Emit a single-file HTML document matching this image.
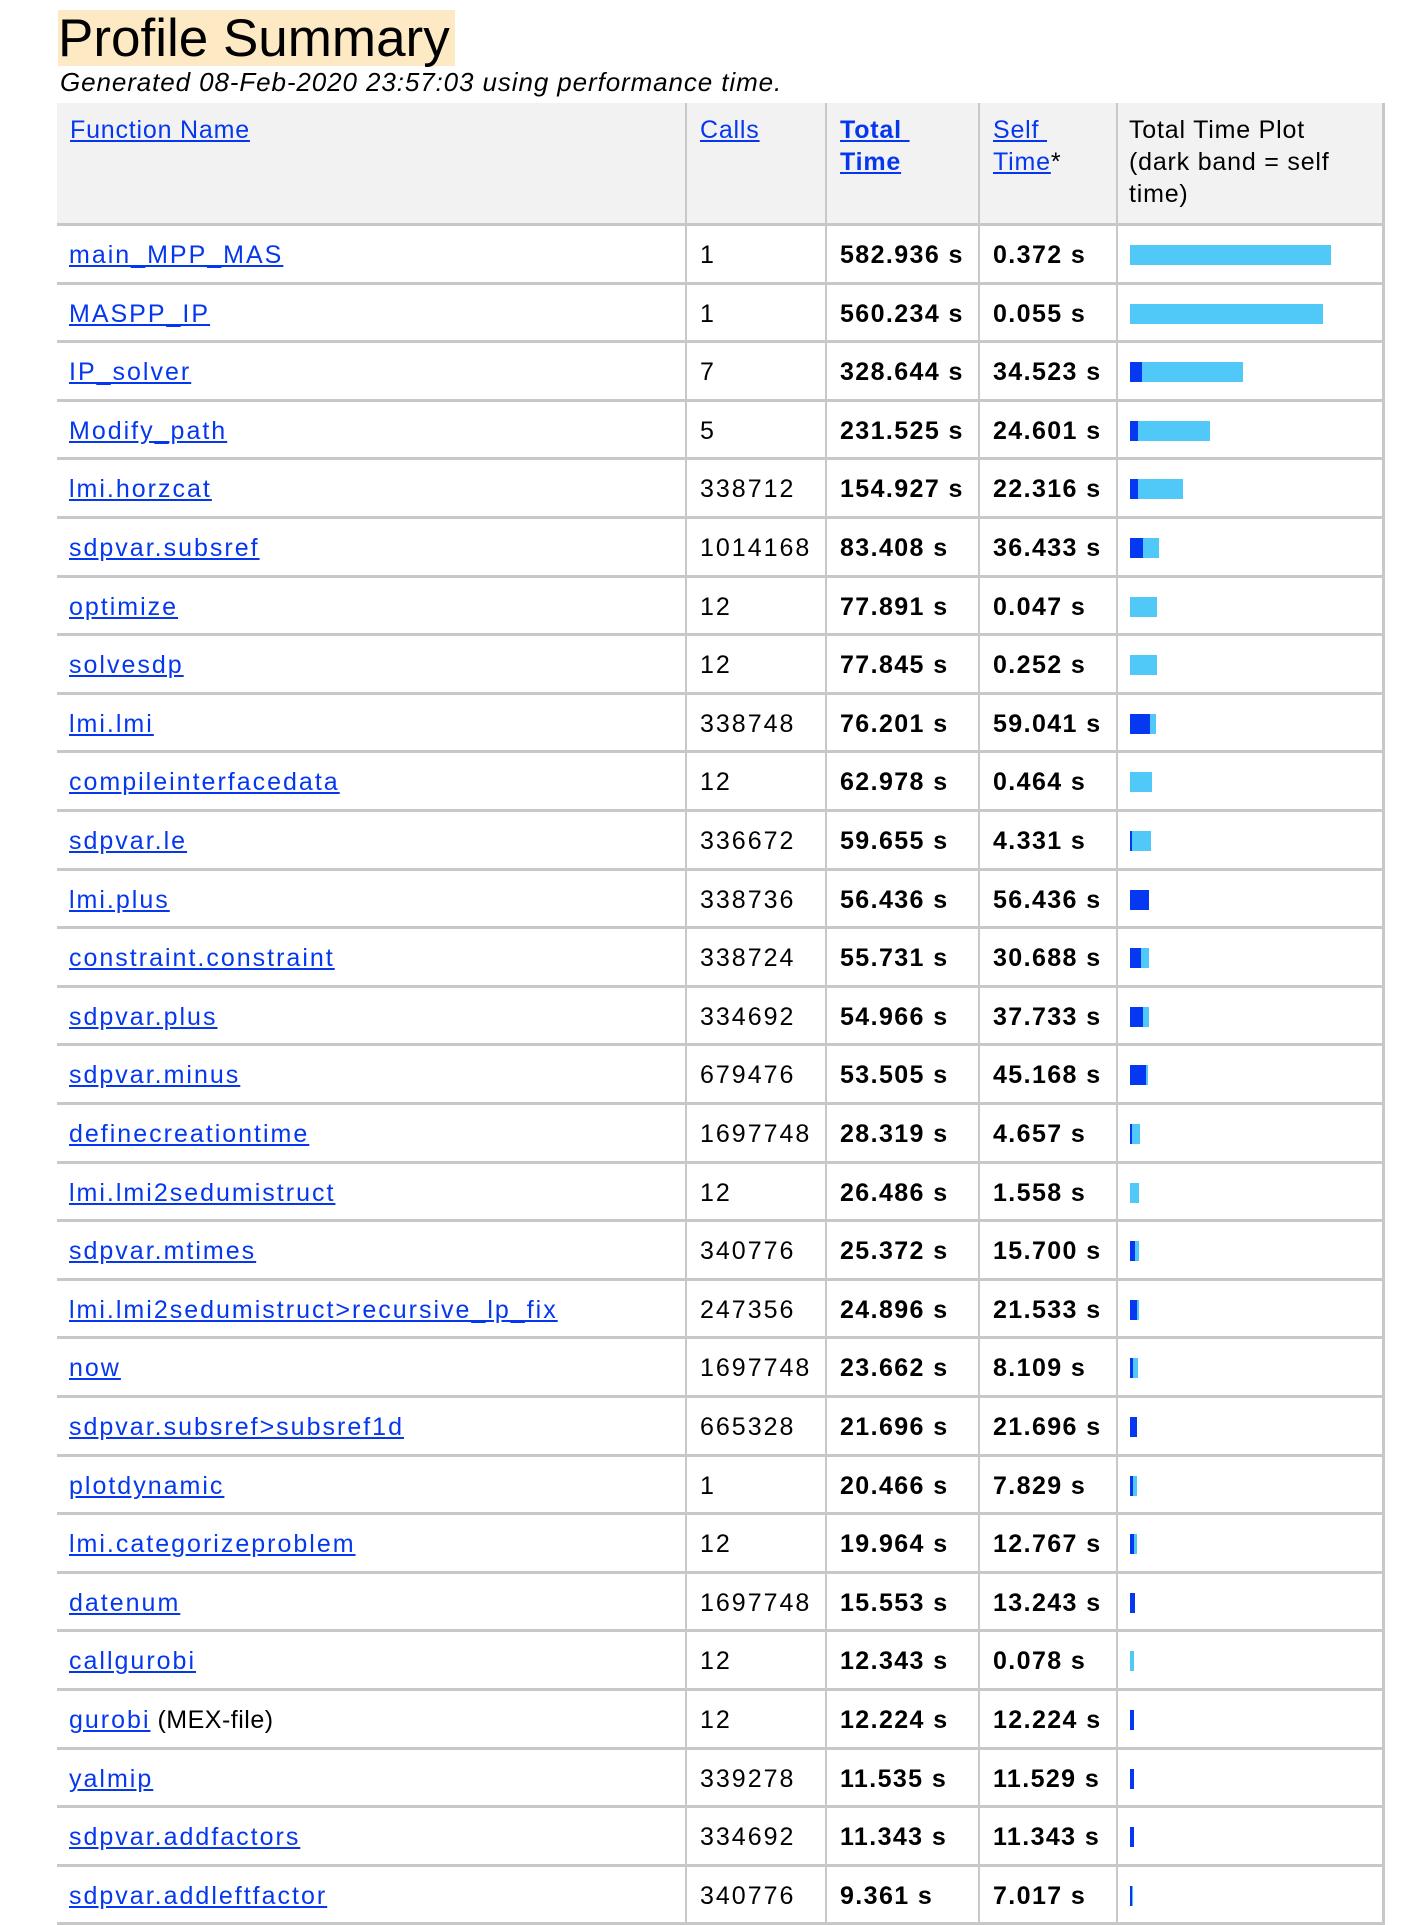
<!DOCTYPE html>
<html><head><meta charset="utf-8"><style>
html,body{margin:0;padding:0;background:#fff;}
body{width:1406px;height:1924px;position:relative;overflow:hidden;font-family:"Liberation Sans",sans-serif;}
.abs{position:absolute;}
#title{left:58px;top:10px;width:397px;height:56px;background:#fde9c4;font-size:53px;line-height:58px;color:#000;white-space:nowrap;}
#sub{left:60px;top:67px;font-size:26px;letter-spacing:0.9px;font-style:italic;white-space:nowrap;color:#000;}
.hdr{background:#f2f2f2;}
.hl{background:#c8c8c8;height:3px;}
.vl{background:#c8c8c8;width:2px;}
.t{position:absolute;font-size:25px;white-space:nowrap;color:#000;line-height:30px;}
.nm{letter-spacing:2px;}
.cl{letter-spacing:2px;}
a{color:#0538ee;text-decoration:underline;}
.b{font-weight:bold;letter-spacing:1.4px;}
.htxt{position:absolute;font-size:25px;letter-spacing:0.8px;line-height:32px;color:#000;}
</style></head><body>
<div id="title" class="abs">Profile Summary</div>
<div id="sub" class="abs">Generated 08-Feb-2020 23:57:03 using performance time.</div>
<div id="tbl"></div>
<script>
const names=["main_MPP_MAS","MASPP_IP","IP_solver","Modify_path","lmi.horzcat","sdpvar.subsref","optimize","solvesdp","lmi.lmi","compileinterfacedata","sdpvar.le","lmi.plus","constraint.constraint","sdpvar.plus","sdpvar.minus","definecreationtime","lmi.lmi2sedumistruct","sdpvar.mtimes","lmi.lmi2sedumistruct>recursive_lp_fix","now","sdpvar.subsref>subsref1d","plotdynamic","lmi.categorizeproblem","datenum","callgurobi","gurobi","yalmip","sdpvar.addfactors","sdpvar.addleftfactor"];
const calls=[1,1,7,5,338712,1014168,12,12,338748,12,336672,338736,338724,334692,679476,1697748,12,340776,247356,1697748,665328,1,12,1697748,12,12,339278,334692,340776];
const totalTime=[582.936,560.234,328.644,231.525,154.927,83.408,77.891,77.845,76.201,62.978,59.655,56.436,55.731,54.966,53.505,28.319,26.486,25.372,24.896,23.662,21.696,20.466,19.964,15.553,12.343,12.224,11.535,11.343,9.361];
const selfTime=[0.372,0.055,34.523,24.601,22.316,36.433,0.047,0.252,59.041,0.464,4.331,56.436,30.688,37.733,45.168,4.657,1.558,15.700,21.533,8.109,21.696,7.829,12.767,13.243,0.078,12.224,11.529,11.343,7.017];

const tbl=document.getElementById('tbl');
const L=57,R=1385,TOP=103,HB=223,PITCH=58.6;
const cols=[685,825,978,1116];
const barX0=1130, barScale=201/582.936;
const barW=v=>v*barScale;
function mk(cls,style,html){const d=document.createElement('div');d.className=cls;d.style.cssText=style;if(html!==undefined)d.innerHTML=html;tbl.appendChild(d);return d;}

let e=mk('abs hdr',`left:${L}px;top:${TOP}px;width:${R-L}px;height:${HB-TOP}px;`);



const heads=[[70,'<a href="#">Function Name</a>','header-function-name',true],[700,'<a href="#">Calls</a>','header-calls',true],[840,'<a href="#" style="font-weight:bold">Total&nbsp;<br>Time</a>','header-total-time',true],[993,'<a href="#">Self&nbsp;<br>Time</a>*','header-self-time',true],[1129,'Total Time Plot<br>(dark band = self<br>time)','header-plot',false]];
heads.forEach(h=>{
  const d=mk('htxt',`left:${h[0]}px;top:114px;`,h[1]);
  
  
});

for(let i=0;i<=names.length;i++){
  const y=Math.round(HB+i*PITCH);
  const ln=mk('abs hl',`left:${L}px;top:${y}px;width:${R-L}px;`);
  
  
}
cols.concat([R-3]).forEach(c=>{
  const v=mk('abs vl',`left:${c}px;top:${TOP}px;height:${1924-TOP}px;${c===R-3?'width:3px;':''}`);
  
  
});

names.forEach((n,i)=>{
  const y=HB+i*PITCH;
  const ty=Math.round(y+17);
  let d=mk('t',`left:69px;top:${ty}px;`,`<a href="#" class="nm">${n}</a>`+(n==='gurobi'?' <span style="letter-spacing:0.5px">(MEX-file)</span>':''));
  
  
  d=mk('t cl',`left:700px;top:${ty}px;`,String(calls[i]));
  
  
  d=mk('t b',`left:840px;top:${ty}px;`,totalTime[i].toFixed(3)+' s');
  
  
  d=mk('t b',`left:993px;top:${ty}px;`,selfTime[i].toFixed(3)+' s');
  
  
  const by=Math.round(y+22);
  const tw=Math.max(2,barW(totalTime[i]));
  const b=mk('abs',`left:${barX0}px;top:${by}px;width:${tw}px;height:20px;background:#50c8f8;`);
  
  
  let sw=barW(selfTime[i]);
  if(sw<1) sw=(totalTime[i]<15&&selfTime[i]>1)?2:0;
  else sw=Math.max(2,Math.round(sw));
  const s=mk('abs',`left:${barX0}px;top:${by}px;width:${sw}px;height:20px;background:#0538f0;`);
  
  
});
</script>
</body></html>
